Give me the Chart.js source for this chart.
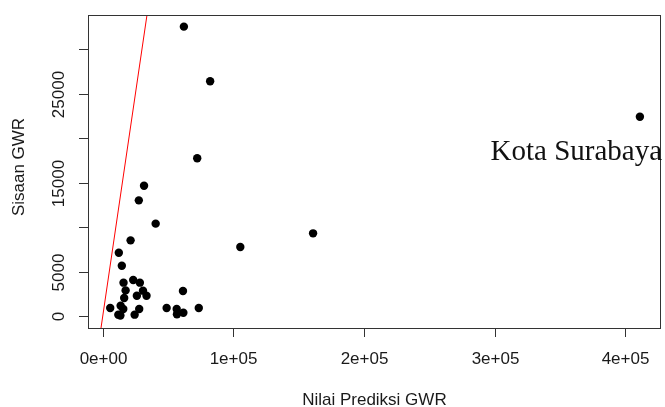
<!DOCTYPE html>
<html>
<head>
<meta charset="utf-8">
<script src="https://cdn.jsdelivr.net/npm/chart.js@4"></script>
<style>
  html, body { margin: 0; padding: 0; background: #fff; }
  #wrap { width: 665px; height: 407px; position: relative; }
</style>
</head>
<body>
<div id="wrap"><canvas id="myScatter"></canvas></div>
<script>
// Nilai Prediksi GWR (x) vs Sisaan GWR (y)
var prediksi = [62100, 82200, 72300, 31600, 27600, 40500, 21300, 105300, 161000, 12300,
    14600, 15900, 23300, 28400, 17500, 30800, 26100, 33500, 61400, 16400,
    5700, 13700, 15700, 27900, 48900, 56600, 56800, 61700, 73500, 24400,
    11900, 13500, 411200];
var sisaan = [32550, 26400, 17740, 14660, 13010, 10390, 8510, 7760, 9300, 7120,
    5660, 3750, 4050, 3750, 2880, 2850, 2280, 2280, 2810, 2020,
    900, 1160, 790, 790, 900, 790, 190, 370, 900, 150,
    150, 50, 22420];

var xTicks = [0, 100000, 200000, 300000, 400000];
var xTickLabels = ["0e+00", "1e+05", "2e+05", "3e+05", "4e+05"];
var yTicks = [0, 5000, 10000, 15000, 20000, 25000, 30000];
// R cuma kasih label di sebagian tick
var yTickLabels = ["0", "5000", "", "15000", "", "25000", ""];

var garisX = [-20000, 60000];   // abline(0, 1)
var labelKota = ["Kota Surabaya"];
var labelPos = [362500, 17550];

var points = prediksi.map(function (v, i) { return { x: v, y: sisaan[i] }; });

var rAxes = {
    id: "rAxes",
    afterDraw: function (chart) {
        var c = chart.ctx, a = chart.chartArea;
        var xs = chart.scales.x, ys = chart.scales.y;
        c.save();
        // kotak plot
        c.strokeStyle = "#333";
        c.lineWidth = 1;
        c.strokeRect(Math.round(a.left) + 0.5, Math.round(a.top) + 0.5,
            Math.round(a.right - a.left) - 1, Math.round(a.bottom - a.top));

        c.fillStyle = "#1a1a1a";
        c.font = "17px 'Liberation Sans', Arial, sans-serif";

        // sumbu x
        c.textAlign = "center";
        c.textBaseline = "middle";
        xTicks.forEach(function (t, i) {
            var px = Math.round(xs.getPixelForValue(t)) + 0.5;
            c.beginPath();
            c.moveTo(px, a.bottom);
            c.lineTo(px, a.bottom + 9);
            c.stroke();
            c.fillText(xTickLabels[i], px, 359);
        });
        c.fillText("Nilai Prediksi GWR", (a.left + a.right) / 2, 400);

        // sumbu y
        yTicks.forEach(function (t, i) {
            var py = Math.round(ys.getPixelForValue(t)) + 0.5;
            c.beginPath();
            c.moveTo(a.left, py);
            c.lineTo(a.left - 9, py);
            c.stroke();
            if (yTickLabels[i]) {
                c.save();
                c.translate(59.5, py);
                c.rotate(-Math.PI / 2);
                c.fillText(yTickLabels[i], 0, 0);
                c.restore();
            }
        });
        c.save();
        c.translate(19, 167);
        c.rotate(-Math.PI / 2);
        c.fillText("Sisaan GWR", 0, 0);
        c.restore();

        // label kota
        c.font = "29px 'Liberation Serif', 'Times New Roman', serif";
        c.fillStyle = "#111";
        c.textBaseline = "alphabetic";
        c.fillText(labelKota[0], xs.getPixelForValue(labelPos[0]), ys.getPixelForValue(labelPos[1]));
        c.restore();
    }
};

var ctx = document.getElementById("myScatter");
var myScatter = new Chart(ctx, {
    type: "scatter",
    data: {
        datasets: [{
            data: points,
            backgroundColor: "#000",
            borderWidth: 0,
            pointRadius: 4.2,
            pointHoverRadius: 4.2,
        }, {
            type: "line",
            data: garisX.map(function (v) { return { x: v, y: v }; }),
            borderColor: "#ff0000",
            borderWidth: 1,
            pointRadius: 0,
            fill: false,
        }],
    },
    options: {
        responsive: true,
        maintainAspectRatio: false,
        animation: false,
        layout: { padding: { left: 88, top: 15, right: 2, bottom: 79 } },
        plugins: {
            legend: { display: false },
            tooltip: { enabled: false },
        },
        scales: {
            x: { type: "linear", min: -11300, max: 427200, display: false },
            y: { type: "linear", min: -1350, max: 33860, display: false },
        },
    },
    plugins: [rAxes],
});
</script>
</body>
</html>
